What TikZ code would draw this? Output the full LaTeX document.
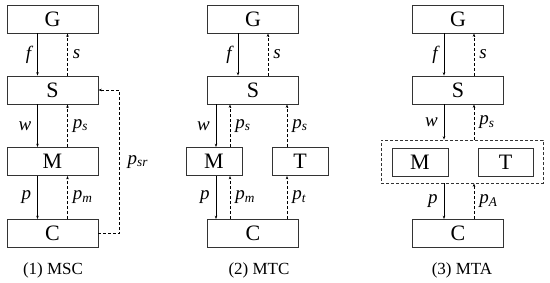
\documentclass[tikz,border=0pt]{standalone}
\usepackage{fontspec}
\setmainfont{Liberation Serif}
\usetikzlibrary{arrows.meta}
\begin{document}
\begin{tikzpicture}[
    x=1pt, y=-1pt,
    block/.style={
        draw=black!80,
        line width=0.8pt,
        minimum width=91pt,
        minimum height=28pt,
        inner sep=0pt,
        font=\fontsize{22}{24}\selectfont
    },
    small block/.style={
        block,
        minimum width=56pt
    },
    group box/.style={
        draw=black!80,
        dash pattern=on 3pt off 2pt,
        line width=0.8pt,
        minimum width=162pt,
        minimum height=43pt,
        inner sep=0pt
    },
    flow/.style={
        -{Stealth[length=3.5pt,width=2.5pt]},
        line width=0.6pt
    },
    feedback/.style={
        flow,
        dash pattern=on 3pt off 2pt
    },
    lbl/.style={
        font=\fontsize{19}{21}\selectfont\itshape,
        inner sep=1pt
    },
    caption/.style={
        font=\fontsize{17}{19}\selectfont
    }
]

\useasboundingbox (0,0) rectangle (550,282);

%% --- (1) MSC ---
\node[block] (G1) at (52.5,19)    {G};
\node[block] (S1) at (52.5,90)    {S};
\node[block] (M1) at (52.5,161.5) {M};
\node[block] (C1) at (52.5,233.5) {C};

\draw[flow]     ([xshift=-15pt]G1.south) -- node[lbl,left=5pt]  {f} ([xshift=-15pt]S1.north);
\draw[feedback] ([xshift=15pt]S1.north)  -- node[lbl,right=4pt] {s} ([xshift=15pt]G1.south);
\draw[flow]     ([xshift=-15pt]S1.south) -- node[lbl,left=5pt]  {w} ([xshift=-15pt]M1.north);
\draw[feedback] ([xshift=15pt]M1.north)  -- node[lbl,right=4pt] {p\textsubscript{s}} ([xshift=15pt]S1.south);
\draw[flow]     ([xshift=-15pt]M1.south) -- node[lbl,left=5pt]  {p} ([xshift=-15pt]C1.north);
\draw[feedback] ([xshift=15pt]C1.north)  -- node[lbl,right=4pt] {p\textsubscript{m}} ([xshift=15pt]M1.south);
\draw[feedback] (C1.east) -- ++(21,0) |- node[lbl,pos=.25,right=7pt] {p\textsubscript{sr}} (S1.east);

\node[caption] (cap1) at (53,270) {(1) MSC};

%% --- (2) MTC ---
\node[block]       (G2) at (253,19)    {G};
\node[block]       (S2) at (253,90)    {S};
\node[small block] (M2) at (214,161.5) {M};
\node[small block] (T2) at (300,161.5) {T};
\node[block]       (C2) at (253,233.5) {C};

\draw[flow]     ([xshift=-15pt]G2.south) -- node[lbl,left=5pt]  {f} ([xshift=-15pt]S2.north);
\draw[feedback] ([xshift=15pt]S2.north)  -- node[lbl,right=4pt] {s} ([xshift=15pt]G2.south);
\draw[flow]     ([xshift=-37pt]S2.south) -- node[lbl,left=5pt]  {w} ([xshift=2pt]M2.north);
\draw[feedback] ([xshift=16pt]M2.north)  -- node[lbl,right=4pt] {p\textsubscript{s}} ([xshift=-23pt]S2.south);
\draw[feedback] ([xshift=-13pt]T2.north) -- node[lbl,right=4pt] {p\textsubscript{s}} ([xshift=34pt]S2.south);
\draw[flow]     ([xshift=2pt]M2.south)   -- node[lbl,left=5pt]  {p} ([xshift=-37pt]C2.north);
\draw[feedback] ([xshift=-23pt]C2.north) -- node[lbl,right=4pt] {p\textsubscript{m}} ([xshift=16pt]M2.south);
\draw[feedback] ([xshift=34pt]C2.north)  -- node[lbl,right=4pt] {p\textsubscript{t}} ([xshift=-13pt]T2.south);

\node[caption] (cap2) at (259,270) {(2) MTC};

%% --- (3) MTA ---
\node[block]       (G3)  at (458,19)    {G};
\node[block]       (S3)  at (458,90)    {S};
\node[group box]   (grp) at (462,161.5) {};
\node[small block] (M3)  at (420,162)   {M};
\node[small block, minimum width=55pt] (T3) at (505.5,162) {T};
\node[block]       (C3)  at (458,233.5) {C};

\draw[flow]     ([xshift=-14pt]G3.south)  -- node[lbl,left=5pt]  {f} ([xshift=-14pt]S3.north);
\draw[feedback] ([xshift=16pt]S3.north)   -- node[lbl,right=4pt] {s} ([xshift=16pt]G3.south);
\draw[flow]     ([xshift=-14pt]S3.south)  -- node[lbl,left=5pt]  {w} ([xshift=-18pt]grp.north);
\draw[feedback] ([xshift=12pt]grp.north)  -- node[lbl,right=4pt] {p\textsubscript{s}} ([xshift=16pt]S3.south);
\draw[flow]     ([xshift=-18pt]grp.south) -- node[lbl,left=5pt]  {p} ([xshift=-14pt]C3.north);
\draw[feedback] ([xshift=16pt]C3.north)   -- node[lbl,right=4pt] {p\textsubscript{A}} ([xshift=12pt]grp.south);

\node[caption] (cap3) at (462,270) {(3) MTA};

\end{tikzpicture}
\end{document}
